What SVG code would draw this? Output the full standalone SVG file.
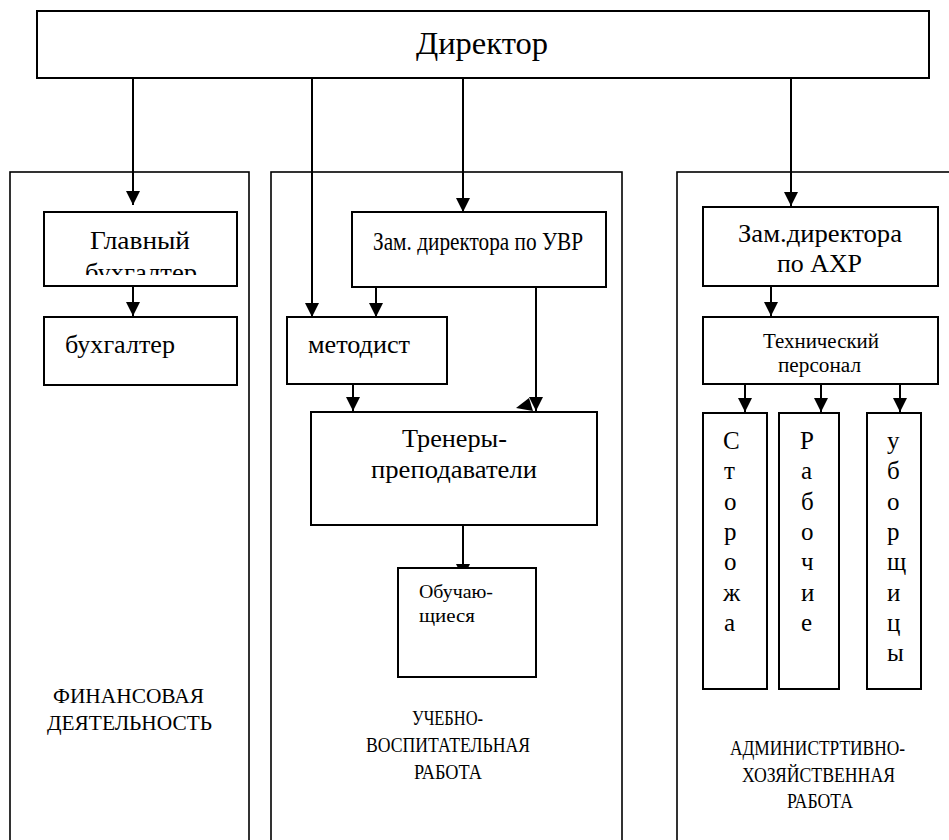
<svg xmlns="http://www.w3.org/2000/svg" width="949" height="840" viewBox="0 0 949 840" font-family="Liberation Serif, DejaVu Serif, Times New Roman, serif">
<style>
.box{fill:#fff;stroke:#000;stroke-width:2}
.col{fill:none;stroke:#000;stroke-width:1.6}
.ln{fill:none;stroke:#000;stroke-width:2;marker-end:url(#ah)}
.t{fill:#000;font-family:"Liberation Serif","DejaVu Serif",serif}
.c{text-anchor:middle}
</style>
<defs>
<marker id="ah" markerUnits="userSpaceOnUse" markerWidth="16" markerHeight="14" refX="14" refY="7" orient="auto">
<path d="M0,0 L14,7 L0,14 Z" fill="#000"/>
</marker>
<clipPath id="clipGB"><rect x="44" y="212" width="193" height="63"/></clipPath>
</defs>

<g id="columns">
<rect class="col" x="10" y="172" width="239" height="700"/>
<rect class="col" x="271" y="172" width="351" height="700"/>
<rect class="col" x="677" y="172" width="300" height="700"/>
</g>

<g id="connectors">
<line class="ln" x1="133" y1="78" x2="133" y2="205"/>
<line class="ln" x1="312" y1="78" x2="312" y2="317"/>
<line class="ln" x1="463" y1="78" x2="463" y2="212"/>
<line class="ln" x1="791" y1="78" x2="791" y2="206"/>
<line class="ln" x1="133" y1="286" x2="133" y2="316"/>
<line class="ln" x1="376" y1="287" x2="376" y2="317"/>
<line class="ln" x1="536" y1="287" x2="536" y2="411"/>
<polygon points="516,408 529,398 533,411" fill="#000"/>
<line class="ln" x1="353" y1="384" x2="353" y2="411"/>
<line class="ln" x1="463" y1="525" x2="463" y2="578"/>
<line class="ln" x1="771" y1="286" x2="771" y2="316"/>
<line class="ln" x1="745" y1="384" x2="745" y2="412"/>
<line class="ln" x1="821" y1="384" x2="821" y2="412"/>
<line class="ln" x1="900" y1="384" x2="900" y2="412"/>
</g>

<g id="director">
<rect class="box" x="37" y="11" width="892" height="67"/>
<text class="t" x="416" y="54" font-size="32" textLength="132" lengthAdjust="spacingAndGlyphs">Директор</text>
</g>

<g id="glavbuh">
<rect class="box" x="44" y="212" width="193" height="74"/>
<text class="t" x="90" y="249" font-size="26" textLength="100" lengthAdjust="spacingAndGlyphs">Главный</text>
<text class="t" x="85" y="281" font-size="26" textLength="112" lengthAdjust="spacingAndGlyphs" clip-path="url(#clipGB)">бухгалтер</text>
</g>

<g id="buh">
<rect class="box" x="44" y="317" width="193" height="68"/>
<text class="t" x="65" y="353" font-size="26" textLength="110" lengthAdjust="spacingAndGlyphs">бухгалтер</text>
</g>

<g id="zam-uvr">
<rect class="box" x="352" y="212" width="254" height="75"/>
<text class="t" x="373" y="250" font-size="25" textLength="210" lengthAdjust="spacingAndGlyphs">Зам. директора по УВР</text>
</g>

<g id="metodist">
<rect class="box" x="287" y="317" width="160" height="67"/>
<text class="t" x="308" y="353" font-size="26" textLength="102" lengthAdjust="spacingAndGlyphs">методист</text>
</g>

<g id="trenery">
<rect class="box" x="311" y="412" width="286" height="113"/>
<text class="t" x="402" y="447" font-size="26" textLength="105" lengthAdjust="spacingAndGlyphs">Тренеры-</text>
<text class="t" x="371" y="478" font-size="26" textLength="166" lengthAdjust="spacingAndGlyphs">преподаватели</text>
</g>

<g id="obuch">
<rect class="box" x="398" y="568" width="138" height="109"/>
<text class="t" x="419" y="598" font-size="19" textLength="74" lengthAdjust="spacingAndGlyphs">Обучаю-</text>
<text class="t" x="419" y="622" font-size="19" textLength="56" lengthAdjust="spacingAndGlyphs">щиеся</text>
</g>

<g id="zam-ahr">
<rect class="box" x="703" y="207" width="235" height="79"/>
<text class="t" x="738" y="242" font-size="26" textLength="164" lengthAdjust="spacingAndGlyphs">Зам.директора</text>
<text class="t" x="777" y="272" font-size="26" textLength="85" lengthAdjust="spacingAndGlyphs">по АХР</text>
</g>

<g id="tech">
<rect class="box" x="703" y="317" width="235" height="67"/>
<text class="t" x="763" y="348" font-size="20" textLength="116" lengthAdjust="spacingAndGlyphs">Технический</text>
<text class="t" x="778" y="372" font-size="20" textLength="83" lengthAdjust="spacingAndGlyphs">персонал</text>
</g>

<g id="storozha">
<rect class="box" x="703" y="413" width="64" height="276"/>
<text class="t" x="723" font-size="25"><tspan x="723" y="449">С</tspan><tspan x="724" y="479.3">т</tspan><tspan x="724" y="509.6">о</tspan><tspan x="724" y="539.9">р</tspan><tspan x="724" y="570.2">о</tspan><tspan x="723" y="600.5">ж</tspan><tspan x="724" y="630.8">а</tspan></text>
</g>

<g id="rabochie">
<rect class="box" x="779" y="413" width="60" height="276"/>
<text class="t" x="800" font-size="25"><tspan x="800" y="449">Р</tspan><tspan x="801" y="479.3">а</tspan><tspan x="801" y="509.6">б</tspan><tspan x="801" y="539.9">о</tspan><tspan x="801" y="570.2">ч</tspan><tspan x="801" y="600.5">и</tspan><tspan x="801" y="630.8">е</tspan></text>
</g>

<g id="uborshicy">
<rect class="box" x="867" y="413" width="54" height="276"/>
<text class="t" x="887" font-size="25"><tspan x="887" y="449">у</tspan><tspan x="887" y="479.3">б</tspan><tspan x="887" y="509.6">о</tspan><tspan x="887" y="539.9">р</tspan><tspan x="887" y="570.2">щ</tspan><tspan x="887" y="600.5">и</tspan><tspan x="887" y="630.8">ц</tspan><tspan x="887" y="661.1">ы</tspan></text>
</g>

<g id="label-fin">
<text class="t" x="53" y="703" font-size="21" textLength="151" lengthAdjust="spacingAndGlyphs">ФИНАНСОВАЯ</text>
<text class="t" x="47" y="730" font-size="21" textLength="165" lengthAdjust="spacingAndGlyphs">ДЕЯТЕЛЬНОСТЬ</text>
</g>

<g id="label-uvr">
<text class="t" x="412" y="725" font-size="20" textLength="71" lengthAdjust="spacingAndGlyphs">УЧЕБНО-</text>
<text class="t" x="366" y="752" font-size="20" textLength="164" lengthAdjust="spacingAndGlyphs">ВОСПИТАТЕЛЬНАЯ</text>
<text class="t" x="414" y="779" font-size="20" textLength="68" lengthAdjust="spacingAndGlyphs">РАБОТА</text>
</g>

<g id="label-ahr">
<text class="t" x="730" y="755" font-size="20" textLength="175" lengthAdjust="spacingAndGlyphs">АДМИНИСТРТИВНО-</text>
<text class="t" x="742" y="782" font-size="20" textLength="153" lengthAdjust="spacingAndGlyphs">ХОЗЯЙСТВЕННАЯ</text>
<text class="t" x="787" y="808" font-size="20" textLength="66" lengthAdjust="spacingAndGlyphs">РАБОТА</text>
</g>
</svg>
